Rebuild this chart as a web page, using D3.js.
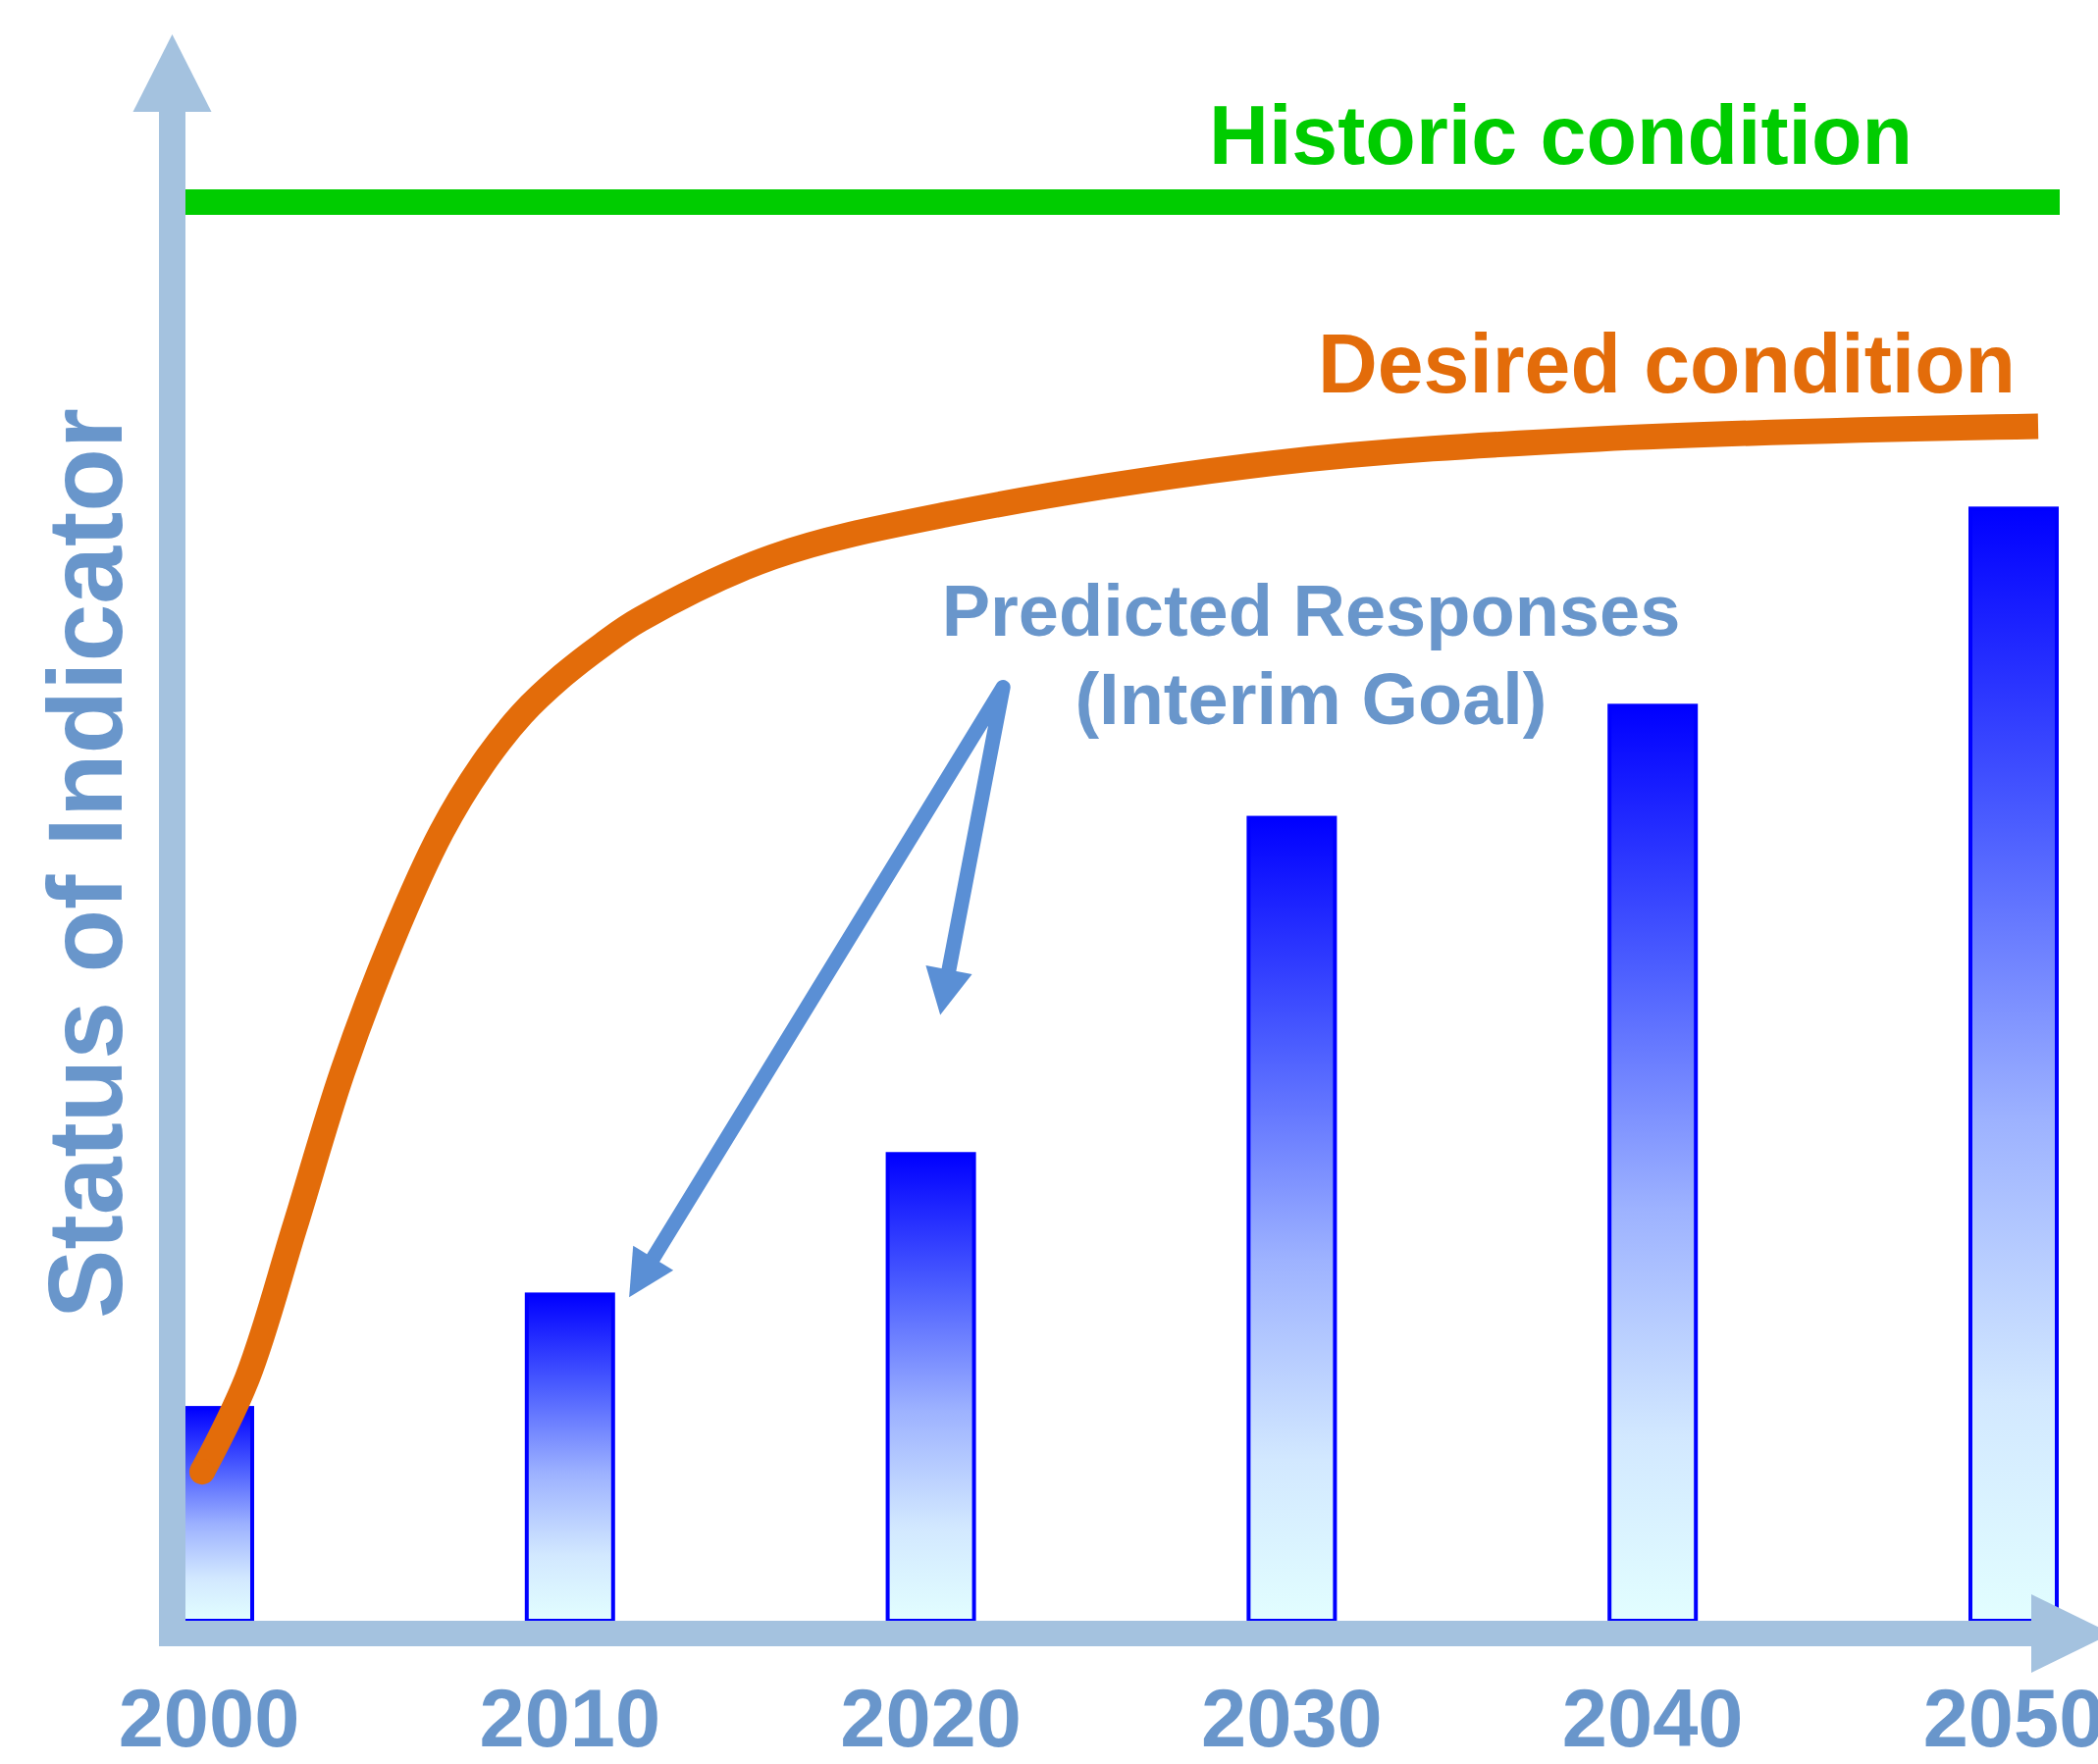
<!DOCTYPE html>
<html>
<head>
<meta charset="utf-8">
<script src="https://cdn.jsdelivr.net/npm/d3@7"></script>
<style>
  body { margin: 0; background: #fff; }
  svg { display: block; }
  text { font-family: "Liberation Sans", Arial, Helvetica, sans-serif; font-weight: bold; }
</style>
</head>
<body>
<script>
const width = 2138;
const height = 1798;

// predicted responses (interim goal), status units (historic = 100)
const years = [2000, 2010, 2020, 2030, 2040, 2050];
const yearLabels = ["2000", "2010", "2020", "2030", "2040", "2050"];
const predicted = [15.0, 23.0, 32.9, 56.6, 64.5, 78.4];

const historicValue = 100;

// desired condition curve
const desiredYears = [1999.81, 2001.06, 2002.37, 2003.70, 2005.08, 2006.44, 2007.56, 2008.67,
  2009.79, 2010.90, 2011.95, 2015.63, 2020.47, 2029.47, 2038.50, 2050.68];
const desiredValues = [10.5, 17.1, 27.7, 38.7, 48.0, 55.6, 60.3, 63.9,
  66.6, 68.8, 70.6, 75.0, 78.0, 81.6, 83.3, 84.2];

// callout arrows: from the label down to bars 2010 and 2020
const calloutFrom = [2022.0, 65.8];
const calloutTo = [[2011.64, 22.8], [2020.26, 42.7]];

const axisColor = "#a4c2df";
const textBlue = "#6996cb";
const arrowBlue = "#5a8fd5";
const green = "#00cc00";
const orange = "#e36c0a";

const x = d3.scaleLinear().domain([2000, 2050]).range([213, 2052]);
const y = d3.scaleLinear().domain([0, 100]).range([1652, 206]);

const svg = d3.select("body").append("svg")
  .attr("width", width)
  .attr("height", height)
  .attr("viewBox", [0, 0, width, height]);

const defs = svg.append("defs");
const grad = defs.append("linearGradient")
  .attr("id", "barGrad")
  .attr("x1", 0).attr("y1", 0).attr("x2", 0).attr("y2", 1);
[[0, "#0000ff"], [0.28, "#4a5cff"], [0.55, "#9db2ff"], [0.8, "#d2e8ff"], [1, "#e2feff"]]
  .forEach(([o, c]) => grad.append("stop").attr("offset", o).attr("stop-color", c));

const barW = 88;
const axisX = 175.5; // y axis centre line
const axisY = y(0) + 13;

// bars
svg.append("g")
  .selectAll("rect")
  .data(years)
  .join("rect")
  .attr("x", d => x(d) - barW / 2)
  .attr("y", (d, i) => y(predicted[i]))
  .attr("width", barW)
  .attr("height", (d, i) => y(0) - y(predicted[i]))
  .attr("fill", "url(#barGrad)")
  .attr("stroke", "#0000ff")
  .attr("stroke-width", 4);

// axes as thick arrows
const axes = svg.append("g").attr("fill", axisColor);
axes.append("rect")
  .attr("x", axisX - 13.5).attr("y", 112)
  .attr("width", 27).attr("height", axisY + 13 - 112);
axes.append("path")
  .attr("d", `M${axisX},35 L${axisX + 40},114 L${axisX - 40},114 Z`);
axes.append("rect")
  .attr("x", axisX - 13.5).attr("y", axisY - 13)
  .attr("width", 2072 - (axisX - 13.5)).attr("height", 26);
axes.append("path")
  .attr("d", `M2070,${axisY - 40} L2152,${axisY} L2070,${axisY + 40} Z`);

// historic condition line
svg.append("line")
  .attr("x1", axisX + 13.5)
  .attr("x2", x(2050) + 47)
  .attr("y1", y(historicValue))
  .attr("y2", y(historicValue))
  .attr("stroke", green)
  .attr("stroke-width", 26);

// desired condition curve
const line = d3.line()
  .x(d => x(d[0]))
  .y(d => y(d[1]))
  .curve(d3.curveCatmullRom.alpha(0.5));
const desired = desiredYears.map((d, i) => [d, desiredValues[i]]);
svg.append("path")
  .datum(desired)
  .attr("d", line)
  .attr("fill", "none")
  .attr("stroke", orange)
  .attr("stroke-width", 26)
  .attr("stroke-linecap", "butt");
svg.append("circle")
  .attr("cx", x(desired[0][0]))
  .attr("cy", y(desired[0][1]))
  .attr("r", 13)
  .attr("fill", orange);

// callout arrows
const fx = x(calloutFrom[0]), fy = y(calloutFrom[1]);
const shaftEnds = calloutTo.map(([ty, tv]) => {
  const tx = x(ty), tyy = y(tv);
  const dx = tx - fx, dy = tyy - fy;
  const len = Math.hypot(dx, dy);
  const ux = dx / len, uy = dy / len;
  return { tx, ty: tyy, ux, uy, sx: tx - ux * 40, sy: tyy - uy * 40 };
});
svg.append("path")
  .attr("d", `M${shaftEnds[0].sx},${shaftEnds[0].sy} L${fx},${fy} L${shaftEnds[1].sx},${shaftEnds[1].sy}`)
  .attr("fill", "none")
  .attr("stroke", arrowBlue)
  .attr("stroke-width", 15)
  .attr("stroke-linejoin", "round");
svg.append("g")
  .selectAll("path")
  .data(shaftEnds)
  .join("path")
  .attr("fill", arrowBlue)
  .attr("d", d => {
    const bx = d.tx - d.ux * 47, by = d.ty - d.uy * 47;
    const px = -d.uy * 24, py = d.ux * 24;
    return `M${d.tx},${d.ty} L${bx + px},${by + py} L${bx - px},${by - py} Z`;
  });

// year labels
svg.append("g")
  .selectAll("text")
  .data(years)
  .join("text")
  .attr("x", d => x(d))
  .attr("y", 1780)
  .attr("text-anchor", "middle")
  .attr("font-size", 83)
  .attr("fill", textBlue)
  .text((d, i) => yearLabels[i]);

// y axis title
svg.append("text")
  .attr("transform", "translate(124,880) rotate(-90)")
  .attr("text-anchor", "middle")
  .attr("font-size", 108)
  .attr("textLength", 928)
  .attr("lengthAdjust", "spacingAndGlyphs")
  .attr("fill", textBlue)
  .text("Status of Indicator");

svg.append("text")
  .attr("x", 1232).attr("y", 167)
  .attr("font-size", 85)
  .attr("textLength", 717)
  .attr("lengthAdjust", "spacingAndGlyphs")
  .attr("fill", green)
  .text("Historic condition");

svg.append("text")
  .attr("x", 1343).attr("y", 400)
  .attr("font-size", 85)
  .attr("textLength", 711)
  .attr("lengthAdjust", "spacingAndGlyphs")
  .attr("fill", orange)
  .text("Desired condition");

const note = svg.append("text")
  .attr("text-anchor", "middle")
  .attr("font-size", 74)
  .attr("fill", textBlue);
note.append("tspan").attr("x", 1336).attr("y", 648).text("Predicted Responses");
note.append("tspan").attr("x", 1336).attr("y", 738).text("(Interim Goal)");
</script>
</body>
</html>
